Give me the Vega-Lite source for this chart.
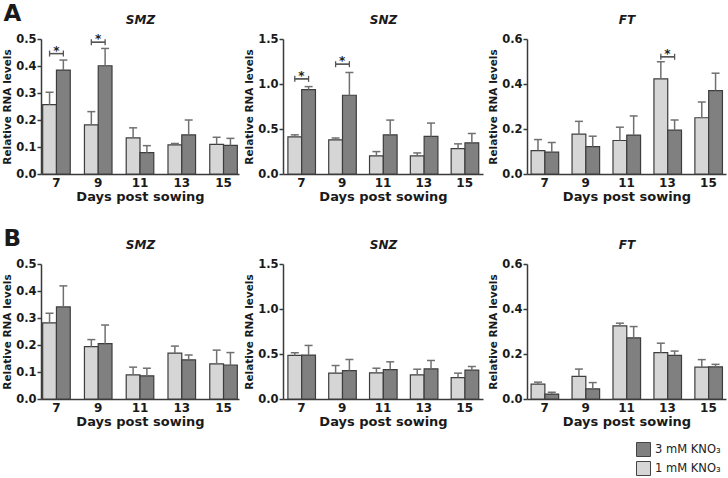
{
 "$schema": "https://vega.github.io/schema/vega-lite/v6.json",
 "padding": {"left": 2, "top": 2, "right": 2, "bottom": 0},
 "background": "white",
 "datasets": {
  "bars": [
   {"r":"A","g":"SMZ","d":7,"t":"1 mM KNO₃","v":0.257,"e":0.303},
   {"r":"A","g":"SMZ","d":7,"t":"3 mM KNO₃","v":0.385,"e":0.422},
   {"r":"A","g":"SMZ","d":9,"t":"1 mM KNO₃","v":0.182,"e":0.231},
   {"r":"A","g":"SMZ","d":9,"t":"3 mM KNO₃","v":0.401,"e":0.465},
   {"r":"A","g":"SMZ","d":11,"t":"1 mM KNO₃","v":0.134,"e":0.171},
   {"r":"A","g":"SMZ","d":11,"t":"3 mM KNO₃","v":0.079,"e":0.105},
   {"r":"A","g":"SMZ","d":13,"t":"1 mM KNO₃","v":0.108,"e":0.113},
   {"r":"A","g":"SMZ","d":13,"t":"3 mM KNO₃","v":0.145,"e":0.2},
   {"r":"A","g":"SMZ","d":15,"t":"1 mM KNO₃","v":0.11,"e":0.136},
   {"r":"A","g":"SMZ","d":15,"t":"3 mM KNO₃","v":0.106,"e":0.132},
   {"r":"A","g":"SNZ","d":7,"t":"1 mM KNO₃","v":0.413,"e":0.435},
   {"r":"A","g":"SNZ","d":7,"t":"3 mM KNO₃","v":0.938,"e":0.971},
   {"r":"A","g":"SNZ","d":9,"t":"1 mM KNO₃","v":0.38,"e":0.4},
   {"r":"A","g":"SNZ","d":9,"t":"3 mM KNO₃","v":0.875,"e":1.128},
   {"r":"A","g":"SNZ","d":11,"t":"1 mM KNO₃","v":0.201,"e":0.249},
   {"r":"A","g":"SNZ","d":11,"t":"3 mM KNO₃","v":0.435,"e":0.599},
   {"r":"A","g":"SNZ","d":13,"t":"1 mM KNO₃","v":0.201,"e":0.234},
   {"r":"A","g":"SNZ","d":13,"t":"3 mM KNO₃","v":0.417,"e":0.566},
   {"r":"A","g":"SNZ","d":15,"t":"1 mM KNO₃","v":0.283,"e":0.335},
   {"r":"A","g":"SNZ","d":15,"t":"3 mM KNO₃","v":0.346,"e":0.45},
   {"r":"A","g":"FT","d":7,"t":"1 mM KNO₃","v":0.104,"e":0.153},
   {"r":"A","g":"FT","d":7,"t":"3 mM KNO₃","v":0.097,"e":0.14},
   {"r":"A","g":"FT","d":9,"t":"1 mM KNO₃","v":0.177,"e":0.234},
   {"r":"A","g":"FT","d":9,"t":"3 mM KNO₃","v":0.122,"e":0.168},
   {"r":"A","g":"FT","d":11,"t":"1 mM KNO₃","v":0.149,"e":0.208},
   {"r":"A","g":"FT","d":11,"t":"3 mM KNO₃","v":0.173,"e":0.258},
   {"r":"A","g":"FT","d":13,"t":"1 mM KNO₃","v":0.423,"e":0.499},
   {"r":"A","g":"FT","d":13,"t":"3 mM KNO₃","v":0.195,"e":0.24},
   {"r":"A","g":"FT","d":15,"t":"1 mM KNO₃","v":0.25,"e":0.32},
   {"r":"A","g":"FT","d":15,"t":"3 mM KNO₃","v":0.371,"e":0.448},
   {"r":"B","g":"SMZ","d":7,"t":"1 mM KNO₃","v":0.282,"e":0.318},
   {"r":"B","g":"SMZ","d":7,"t":"3 mM KNO₃","v":0.341,"e":0.419},
   {"r":"B","g":"SMZ","d":9,"t":"1 mM KNO₃","v":0.194,"e":0.22},
   {"r":"B","g":"SMZ","d":9,"t":"3 mM KNO₃","v":0.205,"e":0.274},
   {"r":"B","g":"SMZ","d":11,"t":"1 mM KNO₃","v":0.089,"e":0.118},
   {"r":"B","g":"SMZ","d":11,"t":"3 mM KNO₃","v":0.086,"e":0.114},
   {"r":"B","g":"SMZ","d":13,"t":"1 mM KNO₃","v":0.17,"e":0.196},
   {"r":"B","g":"SMZ","d":13,"t":"3 mM KNO₃","v":0.145,"e":0.163},
   {"r":"B","g":"SMZ","d":15,"t":"1 mM KNO₃","v":0.13,"e":0.181},
   {"r":"B","g":"SMZ","d":15,"t":"3 mM KNO₃","v":0.126,"e":0.172},
   {"r":"B","g":"SNZ","d":7,"t":"1 mM KNO₃","v":0.484,"e":0.514},
   {"r":"B","g":"SNZ","d":7,"t":"3 mM KNO₃","v":0.488,"e":0.595},
   {"r":"B","g":"SNZ","d":9,"t":"1 mM KNO₃","v":0.287,"e":0.372},
   {"r":"B","g":"SNZ","d":9,"t":"3 mM KNO₃","v":0.316,"e":0.439},
   {"r":"B","g":"SNZ","d":11,"t":"1 mM KNO₃","v":0.29,"e":0.342},
   {"r":"B","g":"SNZ","d":11,"t":"3 mM KNO₃","v":0.327,"e":0.413},
   {"r":"B","g":"SNZ","d":13,"t":"1 mM KNO₃","v":0.268,"e":0.331},
   {"r":"B","g":"SNZ","d":13,"t":"3 mM KNO₃","v":0.335,"e":0.428},
   {"r":"B","g":"SNZ","d":15,"t":"1 mM KNO₃","v":0.238,"e":0.287},
   {"r":"B","g":"SNZ","d":15,"t":"3 mM KNO₃","v":0.32,"e":0.361},
   {"r":"B","g":"FT","d":7,"t":"1 mM KNO₃","v":0.066,"e":0.075},
   {"r":"B","g":"FT","d":7,"t":"3 mM KNO₃","v":0.022,"e":0.03},
   {"r":"B","g":"FT","d":9,"t":"1 mM KNO₃","v":0.101,"e":0.133},
   {"r":"B","g":"FT","d":9,"t":"3 mM KNO₃","v":0.045,"e":0.073},
   {"r":"B","g":"FT","d":11,"t":"1 mM KNO₃","v":0.325,"e":0.337},
   {"r":"B","g":"FT","d":11,"t":"3 mM KNO₃","v":0.272,"e":0.322},
   {"r":"B","g":"FT","d":13,"t":"1 mM KNO₃","v":0.206,"e":0.248},
   {"r":"B","g":"FT","d":13,"t":"3 mM KNO₃","v":0.194,"e":0.213},
   {"r":"B","g":"FT","d":15,"t":"1 mM KNO₃","v":0.142,"e":0.175},
   {"r":"B","g":"FT","d":15,"t":"3 mM KNO₃","v":0.143,"e":0.154}
  ],
  "sig": [
   {"r":"A","g":"SMZ","d":7,"t":"1 mM KNO₃","b":0.446,"s":"*"},
   {"r":"A","g":"SMZ","d":7,"t":"3 mM KNO₃","b":0.446,"s":""},
   {"r":"A","g":"SMZ","d":9,"t":"1 mM KNO₃","b":0.488,"s":"*"},
   {"r":"A","g":"SMZ","d":9,"t":"3 mM KNO₃","b":0.488,"s":""},
   {"r":"A","g":"SNZ","d":7,"t":"1 mM KNO₃","b":1.057,"s":"*"},
   {"r":"A","g":"SNZ","d":7,"t":"3 mM KNO₃","b":1.057,"s":""},
   {"r":"A","g":"SNZ","d":9,"t":"1 mM KNO₃","b":1.22,"s":"*"},
   {"r":"A","g":"SNZ","d":9,"t":"3 mM KNO₃","b":1.22,"s":""},
   {"r":"A","g":"FT","d":13,"t":"1 mM KNO₃","b":0.521,"s":"*"},
   {"r":"A","g":"FT","d":13,"t":"3 mM KNO₃","b":0.521,"s":""}
  ]
 },
 "spacing": 24,
 "vconcat": [
  {
   "bounds": "flush",
   "spacing": 44,
   "hconcat": [
    {
     "width": 198, "height": 135,
     "resolve": {"axis": {"x": "independent", "y": "independent"}},
     "layer": [
      {"data": {"name": "bars"}, "transform": [{"filter": "datum.r=='A' && datum.g=='SMZ'"}],
       "mark": {"type": "bar", "stroke": "#3d3d3d", "strokeWidth": 1.2},
       "encoding": {
        "x": {"field": "d", "type": "ordinal", "scale": {"paddingInner": 0.34, "paddingOuter": 0.04}, "axis": {"title": "Days post sowing"}},
        "xOffset": {"field": "t", "type": "nominal", "scale": {"domain": ["1 mM KNO₃", "3 mM KNO₃"]}},
        "y": {"field": "v", "type": "quantitative", "scale": {"domain": [0, 0.5], "nice": false}, "axis": {"values": [0, 0.1, 0.2, 0.3, 0.4, 0.5], "format": ".1f", "title": "Relative RNA levels"}},
        "color": {"field": "t", "type": "nominal", "scale": {"domain": ["3 mM KNO₃", "1 mM KNO₃"], "range": ["#808080", "#d6d6d6"]}}
       }},
      {"data": {"name": "bars"}, "transform": [{"filter": "datum.r=='A' && datum.g=='SMZ'"}],
       "mark": {"type": "rule", "color": "#707070", "strokeWidth": 1.5},
       "encoding": {"x": {"field": "d", "type": "ordinal", "axis": {"orient": "top", "title": "SMZ", "labels": false, "ticks": false, "domain": false, "titlePadding": 13, "titleFontStyle": "italic", "titleFontSize": 12}}, "xOffset": {"field": "t", "type": "nominal"}, "y": {"field": "v", "type": "quantitative", "axis": {"orient": "left", "title": "A", "titleAngle": 0, "titleX": -38, "titleY": -19, "titleAlign": "left", "titleBaseline": "alphabetic", "titleFontSize": 23, "titleFontWeight": "bold", "labels": false, "ticks": false, "domain": false, "grid": false}}, "y2": {"field": "e"}}},
      {"data": {"name": "bars"}, "transform": [{"filter": "datum.r=='A' && datum.g=='SMZ'"}],
       "mark": {"type": "tick", "color": "#707070", "thickness": 1.5, "size": 8, "opacity": 1},
       "encoding": {"x": {"field": "d", "type": "ordinal", "axis": null}, "xOffset": {"field": "t", "type": "nominal"}, "y": {"field": "e", "type": "quantitative", "axis": null}}},
      {"data": {"name": "sig"}, "transform": [{"filter": "datum.r=='A' && datum.g=='SMZ'"}],
       "mark": {"type": "tick", "color": "#555555", "thickness": 1.3, "size": 14, "opacity": 1},
       "encoding": {"x": {"field": "d", "type": "ordinal", "axis": null}, "y": {"field": "b", "type": "quantitative", "axis": null}}},
      {"data": {"name": "sig"}, "transform": [{"filter": "datum.r=='A' && datum.g=='SMZ'"}],
       "mark": {"type": "point", "shape": "M0,-1L0,1", "size": 36, "filled": false, "color": "#555555", "strokeWidth": 1.3, "opacity": 1},
       "encoding": {"x": {"field": "d", "type": "ordinal", "axis": null}, "xOffset": {"field": "t", "type": "nominal"}, "y": {"field": "b", "type": "quantitative", "axis": null}}},
      {"data": {"name": "sig"}, "transform": [{"filter": "datum.r=='A' && datum.g=='SMZ'"}],
       "mark": {"type": "text", "fontSize": 12, "fontWeight": "bold", "baseline": "alphabetic", "dy": 1, "color": "#222"},
       "encoding": {"x": {"field": "d", "type": "ordinal", "axis": null}, "y": {"field": "b", "type": "quantitative", "axis": null}, "text": {"field": "s"}}}
     ]
    },
    {
     "width": 200, "height": 135,
     "resolve": {"axis": {"x": "independent", "y": "independent"}},
     "layer": [
      {"data": {"name": "bars"}, "transform": [{"filter": "datum.r=='A' && datum.g=='SNZ'"}],
       "mark": {"type": "bar", "stroke": "#3d3d3d", "strokeWidth": 1.2},
       "encoding": {
        "x": {"field": "d", "type": "ordinal", "scale": {"paddingInner": 0.34, "paddingOuter": 0.12}, "axis": {"title": "Days post sowing"}},
        "xOffset": {"field": "t", "type": "nominal", "scale": {"domain": ["1 mM KNO₃", "3 mM KNO₃"]}},
        "y": {"field": "v", "type": "quantitative", "scale": {"domain": [0, 1.5], "nice": false}, "axis": {"values": [0, 0.5, 1, 1.5], "format": ".1f", "title": "Relative RNA levels"}},
        "color": {"field": "t", "type": "nominal", "scale": {"domain": ["3 mM KNO₃", "1 mM KNO₃"], "range": ["#808080", "#d6d6d6"]}}
       }},
      {"data": {"name": "bars"}, "transform": [{"filter": "datum.r=='A' && datum.g=='SNZ'"}],
       "mark": {"type": "rule", "color": "#707070", "strokeWidth": 1.5},
       "encoding": {"x": {"field": "d", "type": "ordinal", "axis": {"orient": "top", "title": "SNZ", "labels": false, "ticks": false, "domain": false, "titlePadding": 13, "titleFontStyle": "italic", "titleFontSize": 12}}, "xOffset": {"field": "t", "type": "nominal"}, "y": {"field": "v", "type": "quantitative", "axis": null}, "y2": {"field": "e"}}},
      {"data": {"name": "bars"}, "transform": [{"filter": "datum.r=='A' && datum.g=='SNZ'"}],
       "mark": {"type": "tick", "color": "#707070", "thickness": 1.5, "size": 8, "opacity": 1},
       "encoding": {"x": {"field": "d", "type": "ordinal", "axis": null}, "xOffset": {"field": "t", "type": "nominal"}, "y": {"field": "e", "type": "quantitative", "axis": null}}},
      {"data": {"name": "sig"}, "transform": [{"filter": "datum.r=='A' && datum.g=='SNZ'"}],
       "mark": {"type": "tick", "color": "#555555", "thickness": 1.3, "size": 14, "opacity": 1},
       "encoding": {"x": {"field": "d", "type": "ordinal", "axis": null}, "y": {"field": "b", "type": "quantitative", "axis": null}}},
      {"data": {"name": "sig"}, "transform": [{"filter": "datum.r=='A' && datum.g=='SNZ'"}],
       "mark": {"type": "point", "shape": "M0,-1L0,1", "size": 36, "filled": false, "color": "#555555", "strokeWidth": 1.3, "opacity": 1},
       "encoding": {"x": {"field": "d", "type": "ordinal", "axis": null}, "xOffset": {"field": "t", "type": "nominal"}, "y": {"field": "b", "type": "quantitative", "axis": null}}},
      {"data": {"name": "sig"}, "transform": [{"filter": "datum.r=='A' && datum.g=='SNZ'"}],
       "mark": {"type": "text", "fontSize": 12, "fontWeight": "bold", "baseline": "alphabetic", "dy": 1, "color": "#222"},
       "encoding": {"x": {"field": "d", "type": "ordinal", "axis": null}, "y": {"field": "b", "type": "quantitative", "axis": null}, "text": {"field": "s"}}}
     ]
    },
    {
     "width": 199, "height": 135,
     "resolve": {"axis": {"x": "independent", "y": "independent"}},
     "layer": [
      {"data": {"name": "bars"}, "transform": [{"filter": "datum.r=='A' && datum.g=='FT'"}],
       "mark": {"type": "bar", "stroke": "#3d3d3d", "strokeWidth": 1.2},
       "encoding": {
        "x": {"field": "d", "type": "ordinal", "scale": {"paddingInner": 0.34, "paddingOuter": 0.1}, "axis": {"title": "Days post sowing"}},
        "xOffset": {"field": "t", "type": "nominal", "scale": {"domain": ["1 mM KNO₃", "3 mM KNO₃"]}},
        "y": {"field": "v", "type": "quantitative", "scale": {"domain": [0, 0.6], "nice": false}, "axis": {"values": [0, 0.2, 0.4, 0.6], "format": ".1f", "title": "Relative RNA levels"}},
        "color": {"field": "t", "type": "nominal", "scale": {"domain": ["3 mM KNO₃", "1 mM KNO₃"], "range": ["#808080", "#d6d6d6"]}}
       }},
      {"data": {"name": "bars"}, "transform": [{"filter": "datum.r=='A' && datum.g=='FT'"}],
       "mark": {"type": "rule", "color": "#707070", "strokeWidth": 1.5},
       "encoding": {"x": {"field": "d", "type": "ordinal", "axis": {"orient": "top", "title": "FT", "labels": false, "ticks": false, "domain": false, "titlePadding": 13, "titleFontStyle": "italic", "titleFontSize": 12}}, "xOffset": {"field": "t", "type": "nominal"}, "y": {"field": "v", "type": "quantitative", "axis": null}, "y2": {"field": "e"}}},
      {"data": {"name": "bars"}, "transform": [{"filter": "datum.r=='A' && datum.g=='FT'"}],
       "mark": {"type": "tick", "color": "#707070", "thickness": 1.5, "size": 8, "opacity": 1},
       "encoding": {"x": {"field": "d", "type": "ordinal", "axis": null}, "xOffset": {"field": "t", "type": "nominal"}, "y": {"field": "e", "type": "quantitative", "axis": null}}},
      {"data": {"name": "sig"}, "transform": [{"filter": "datum.r=='A' && datum.g=='FT'"}],
       "mark": {"type": "tick", "color": "#555555", "thickness": 1.3, "size": 14, "opacity": 1},
       "encoding": {"x": {"field": "d", "type": "ordinal", "axis": null}, "y": {"field": "b", "type": "quantitative", "axis": null}}},
      {"data": {"name": "sig"}, "transform": [{"filter": "datum.r=='A' && datum.g=='FT'"}],
       "mark": {"type": "point", "shape": "M0,-1L0,1", "size": 36, "filled": false, "color": "#555555", "strokeWidth": 1.3, "opacity": 1},
       "encoding": {"x": {"field": "d", "type": "ordinal", "axis": null}, "xOffset": {"field": "t", "type": "nominal"}, "y": {"field": "b", "type": "quantitative", "axis": null}}},
      {"data": {"name": "sig"}, "transform": [{"filter": "datum.r=='A' && datum.g=='FT'"}],
       "mark": {"type": "text", "fontSize": 12, "fontWeight": "bold", "baseline": "alphabetic", "dy": 1, "color": "#222"},
       "encoding": {"x": {"field": "d", "type": "ordinal", "axis": null}, "y": {"field": "b", "type": "quantitative", "axis": null}, "text": {"field": "s"}}}
     ]
    }
   ]
  },
  {
   "bounds": "flush",
   "spacing": 44,
   "hconcat": [
    {
     "width": 198, "height": 135,
     "resolve": {"axis": {"x": "independent", "y": "independent"}},
     "layer": [
      {"data": {"name": "bars"}, "transform": [{"filter": "datum.r=='B' && datum.g=='SMZ'"}],
       "mark": {"type": "bar", "stroke": "#3d3d3d", "strokeWidth": 1.2},
       "encoding": {
        "x": {"field": "d", "type": "ordinal", "scale": {"paddingInner": 0.34, "paddingOuter": 0.04}, "axis": {"title": "Days post sowing"}},
        "xOffset": {"field": "t", "type": "nominal", "scale": {"domain": ["1 mM KNO₃", "3 mM KNO₃"]}},
        "y": {"field": "v", "type": "quantitative", "scale": {"domain": [0, 0.5], "nice": false}, "axis": {"values": [0, 0.1, 0.2, 0.3, 0.4, 0.5], "format": ".1f", "title": "Relative RNA levels"}},
        "color": {"field": "t", "type": "nominal", "scale": {"domain": ["3 mM KNO₃", "1 mM KNO₃"], "range": ["#808080", "#d6d6d6"]}}
       }},
      {"data": {"name": "bars"}, "transform": [{"filter": "datum.r=='B' && datum.g=='SMZ'"}],
       "mark": {"type": "rule", "color": "#707070", "strokeWidth": 1.5},
       "encoding": {"x": {"field": "d", "type": "ordinal", "axis": {"orient": "top", "title": "SMZ", "labels": false, "ticks": false, "domain": false, "titlePadding": 13, "titleFontStyle": "italic", "titleFontSize": 12}}, "xOffset": {"field": "t", "type": "nominal"}, "y": {"field": "v", "type": "quantitative", "axis": {"orient": "left", "title": "B", "titleAngle": 0, "titleX": -38, "titleY": -19, "titleAlign": "left", "titleBaseline": "alphabetic", "titleFontSize": 23, "titleFontWeight": "bold", "labels": false, "ticks": false, "domain": false, "grid": false}}, "y2": {"field": "e"}}},
      {"data": {"name": "bars"}, "transform": [{"filter": "datum.r=='B' && datum.g=='SMZ'"}],
       "mark": {"type": "tick", "color": "#707070", "thickness": 1.5, "size": 8, "opacity": 1},
       "encoding": {"x": {"field": "d", "type": "ordinal", "axis": null}, "xOffset": {"field": "t", "type": "nominal"}, "y": {"field": "e", "type": "quantitative", "axis": null}}}
     ]
    },
    {
     "width": 200, "height": 135,
     "resolve": {"axis": {"x": "independent", "y": "independent"}},
     "layer": [
      {"data": {"name": "bars"}, "transform": [{"filter": "datum.r=='B' && datum.g=='SNZ'"}],
       "mark": {"type": "bar", "stroke": "#3d3d3d", "strokeWidth": 1.2},
       "encoding": {
        "x": {"field": "d", "type": "ordinal", "scale": {"paddingInner": 0.34, "paddingOuter": 0.12}, "axis": {"title": "Days post sowing"}},
        "xOffset": {"field": "t", "type": "nominal", "scale": {"domain": ["1 mM KNO₃", "3 mM KNO₃"]}},
        "y": {"field": "v", "type": "quantitative", "scale": {"domain": [0, 1.5], "nice": false}, "axis": {"values": [0, 0.5, 1, 1.5], "format": ".1f", "title": "Relative RNA levels"}},
        "color": {"field": "t", "type": "nominal", "scale": {"domain": ["3 mM KNO₃", "1 mM KNO₃"], "range": ["#808080", "#d6d6d6"]}}
       }},
      {"data": {"name": "bars"}, "transform": [{"filter": "datum.r=='B' && datum.g=='SNZ'"}],
       "mark": {"type": "rule", "color": "#707070", "strokeWidth": 1.5},
       "encoding": {"x": {"field": "d", "type": "ordinal", "axis": {"orient": "top", "title": "SNZ", "labels": false, "ticks": false, "domain": false, "titlePadding": 13, "titleFontStyle": "italic", "titleFontSize": 12}}, "xOffset": {"field": "t", "type": "nominal"}, "y": {"field": "v", "type": "quantitative", "axis": null}, "y2": {"field": "e"}}},
      {"data": {"name": "bars"}, "transform": [{"filter": "datum.r=='B' && datum.g=='SNZ'"}],
       "mark": {"type": "tick", "color": "#707070", "thickness": 1.5, "size": 8, "opacity": 1},
       "encoding": {"x": {"field": "d", "type": "ordinal", "axis": null}, "xOffset": {"field": "t", "type": "nominal"}, "y": {"field": "e", "type": "quantitative", "axis": null}}}
     ]
    },
    {
     "width": 199, "height": 135,
     "resolve": {"axis": {"x": "independent", "y": "independent"}},
     "layer": [
      {"data": {"name": "bars"}, "transform": [{"filter": "datum.r=='B' && datum.g=='FT'"}],
       "mark": {"type": "bar", "stroke": "#3d3d3d", "strokeWidth": 1.2},
       "encoding": {
        "x": {"field": "d", "type": "ordinal", "scale": {"paddingInner": 0.34, "paddingOuter": 0.1}, "axis": {"title": "Days post sowing"}},
        "xOffset": {"field": "t", "type": "nominal", "scale": {"domain": ["1 mM KNO₃", "3 mM KNO₃"]}},
        "y": {"field": "v", "type": "quantitative", "scale": {"domain": [0, 0.6], "nice": false}, "axis": {"values": [0, 0.2, 0.4, 0.6], "format": ".1f", "title": "Relative RNA levels"}},
        "color": {"field": "t", "type": "nominal", "scale": {"domain": ["3 mM KNO₃", "1 mM KNO₃"], "range": ["#808080", "#d6d6d6"]}}
       }},
      {"data": {"name": "bars"}, "transform": [{"filter": "datum.r=='B' && datum.g=='FT'"}],
       "mark": {"type": "rule", "color": "#707070", "strokeWidth": 1.5},
       "encoding": {"x": {"field": "d", "type": "ordinal", "axis": {"orient": "top", "title": "FT", "labels": false, "ticks": false, "domain": false, "titlePadding": 13, "titleFontStyle": "italic", "titleFontSize": 12}}, "xOffset": {"field": "t", "type": "nominal"}, "y": {"field": "v", "type": "quantitative", "axis": null}, "y2": {"field": "e"}}},
      {"data": {"name": "bars"}, "transform": [{"filter": "datum.r=='B' && datum.g=='FT'"}],
       "mark": {"type": "tick", "color": "#707070", "thickness": 1.5, "size": 8, "opacity": 1},
       "encoding": {"x": {"field": "d", "type": "ordinal", "axis": null}, "xOffset": {"field": "t", "type": "nominal"}, "y": {"field": "e", "type": "quantitative", "axis": null}}}
     ]
    }
   ]
  }
 ],
 "config": {
  "font": "DejaVu Sans",
  "view": {"stroke": null},
  "axis": {"domainColor": "#3a3a3a", "domainWidth": 1.5, "tickColor": "#3a3a3a", "tickWidth": 1.5, "labelFontWeight": "bold", "titleFontWeight": "bold", "labelColor": "#1a1a1a", "titleColor": "#1a1a1a", "grid": false, "labelFont": "DejaVu Sans", "titleFont": "DejaVu Sans", "labelOverlap": false},
  "axisY": {"tickSize": 4, "labelFontSize": 11.5, "titleFontSize": 10.5, "labelPadding": 1, "titlePadding": 3, "labelFlush": false},
  "axisX": {"ticks": false, "labelFontSize": 12, "titleFontSize": 13, "labelAngle": 0, "labelPadding": 3, "titlePadding": 2},
  "legend": {"orient": "none", "legendX": 595, "legendY": 403, "title": null, "symbolType": "square", "symbolSize": 196, "symbolStrokeColor": "#444", "symbolStrokeWidth": 1, "symbolOpacity": 1, "labelFontSize": 11.5, "labelFont": "DejaVu Sans", "labelColor": "#222", "rowPadding": 0, "labelOffset": 4}
 }
}
